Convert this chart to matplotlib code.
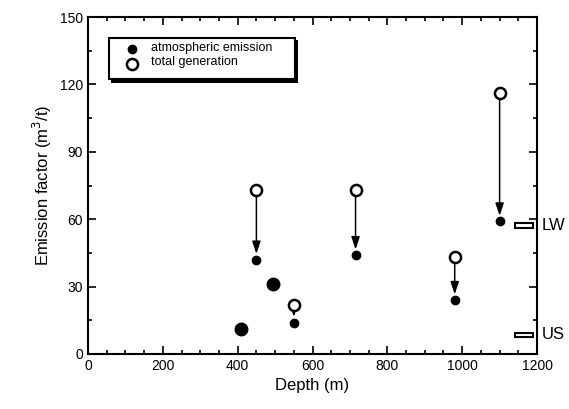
import matplotlib.pyplot as plt
from matplotlib.patches import Rectangle
from matplotlib.ticker import MultipleLocator

plt.rcParams['font.family'] = ['Liberation Sans', 'DejaVu Sans']

# depths with both total generation and atmospheric emission
depth = [450, 550, 715, 980, 1100]
total_gen = [73, 22, 73, 43, 116]
atmos = [42, 14, 44, 24, 59]

# atmospheric-only points (larger dots)
depth_big = [410, 495]
atmos_big = [11, 31]

# reference bars on the right edge
ref_labels = ['LW', 'US']
ref_low = [56, 7.5]
ref_high = [58.5, 9.5]

fig = plt.figure(figsize=(5.69, 4.09), dpi=100)
ax = fig.add_axes([0.1547, 0.1345, 0.7891, 0.8239])

for x, t, a in zip(depth, total_gen, atmos):
    ax.annotate('', xy=(x, a + 2.5), xytext=(x, t),
                arrowprops=dict(arrowstyle='-|>,head_width=0.25,head_length=0.75',
                                color='black', lw=1.1,
                                mutation_scale=10, shrinkA=5, shrinkB=0))

ax.plot(depth, atmos, 'o', color='black', markersize=6, zorder=3)
ax.plot(depth, total_gen, 'o', markerfacecolor='white', markeredgecolor='black',
        markeredgewidth=1.8, markersize=8, zorder=3)
ax.plot(depth_big, atmos_big, 'o', color='black', markersize=9, zorder=3)

for lab, lo, hi in zip(ref_labels, ref_low, ref_high):
    ax.add_patch(Rectangle((1140, lo), 50, hi - lo, facecolor='white',
                           edgecolor='black', lw=1.5, zorder=3))
    ax.text(1212, (lo + hi) / 2, lab, fontsize=12, va='center', ha='left',
            clip_on=False)

# legend box with shadow
ax.add_patch(Rectangle((62, 120.8), 498, 19, facecolor='black', zorder=4))
ax.add_patch(Rectangle((55, 122.2), 497, 18.5, facecolor='white', edgecolor='black',
                       lw=1.5, zorder=5))
ax.plot([118], [135.6], 'o', color='black', markersize=6, zorder=6)
ax.plot([118], [129.3], 'o', markerfacecolor='white', markeredgecolor='black',
        markeredgewidth=1.8, markersize=8, zorder=6)
ax.text(168, 136, 'atmospheric emission', fontsize=9, va='center', zorder=6)
ax.text(168, 129.8, 'total generation', fontsize=9, va='center', zorder=6)

ax.set_xlim(0, 1200)
ax.set_ylim(0, 150)
ax.xaxis.set_major_locator(MultipleLocator(200))
ax.xaxis.set_minor_locator(MultipleLocator(50))
ax.yaxis.set_major_locator(MultipleLocator(30))
ax.yaxis.set_minor_locator(MultipleLocator(15))
ax.tick_params(which='both', direction='in', top=True, right=True, labelsize=10,
               width=1.2)
ax.tick_params(which='major', length=6)
ax.tick_params(which='minor', length=3)
for s in ax.spines.values():
    s.set_linewidth(1.5)

ax.set_xlabel('Depth (m)', fontsize=12)
ax.set_ylabel('Emission factor (m$^3$/t)', fontsize=12)

fig.savefig('out.png', dpi=100)
